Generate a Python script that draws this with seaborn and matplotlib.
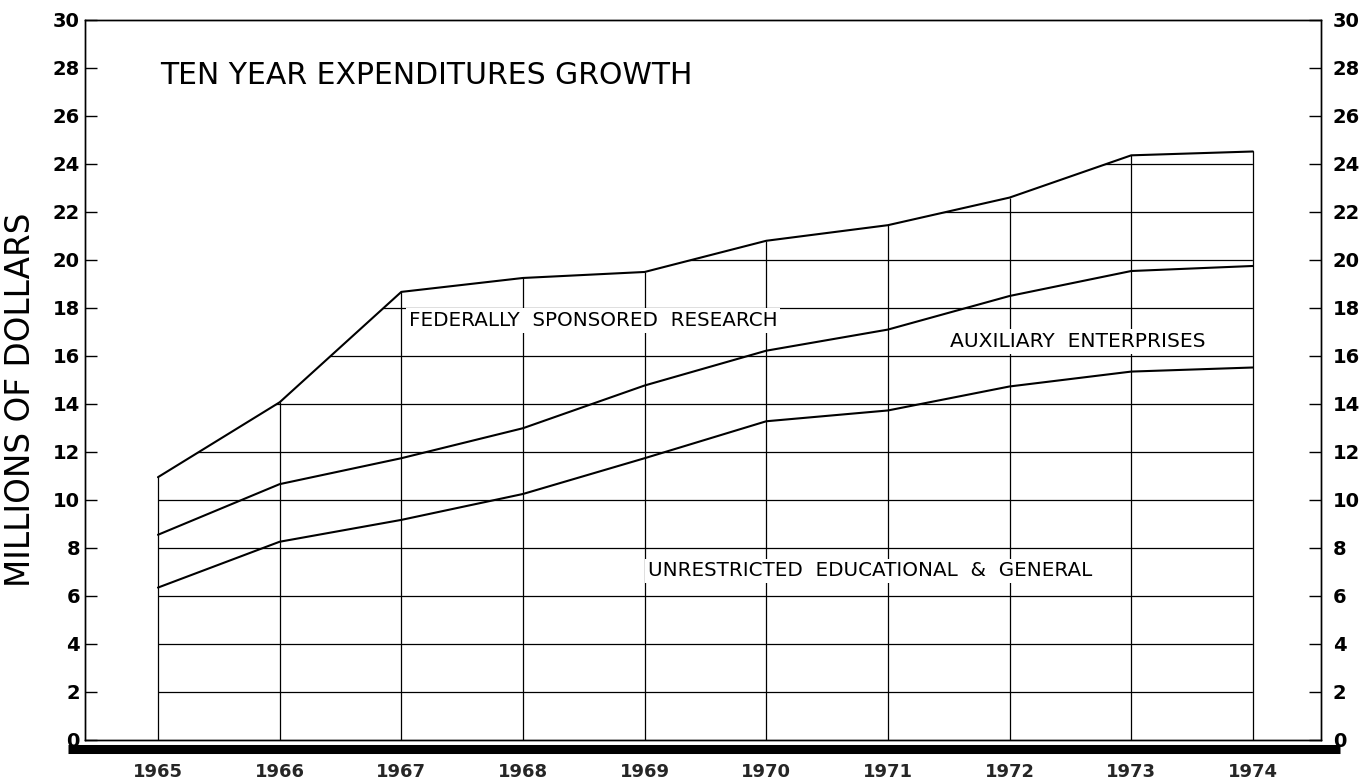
import seaborn as sns
import matplotlib.pyplot as plt
import pandas as pd
import numpy as np
from matplotlib.patches import Polygon

# values (cumulative stack tops, millions of dollars)
years = [1965, 1966, 1967, 1968, 1969, 1970, 1971, 1972, 1973, 1974]
unrestricted = [6.35, 8.26, 9.17, 10.25, 11.74, 13.28, 13.73, 14.73, 15.35, 15.52]
auxiliary = [8.55, 10.66, 11.74, 12.99, 14.77, 16.22, 17.10, 18.50, 19.54, 19.75]
federal = [10.95, 14.07, 18.67, 19.25, 19.50, 20.80, 21.45, 22.60, 24.36, 24.52]
y_ticks = list(range(0, 31, 2))

sns.set_theme(style="white")
plt.rcParams['font.family'] = ['DejaVu Sans']

fig = plt.figure(figsize=(13.64, 7.80), dpi=100)
ax = fig.add_axes([0.0623, 0.0513, 0.9062, 0.9231])

df = pd.DataFrame({
    "year": years * 3,
    "value": unrestricted + auxiliary + federal,
    "series": ["unrestricted"] * 10 + ["auxiliary"] * 10 + ["federal"] * 10,
})
sns.lineplot(data=df, x="year", y="value", units="series", estimator=None,
             color="black", linewidth=1.5, ax=ax, zorder=3, legend=False)

# grid only under the top curve
area = Polygon(list(zip(years, federal)) + [(years[-1], 0), (years[0], 0)],
               closed=True, fill=False, edgecolor="none")
ax.add_patch(area)
hl = ax.hlines(y_ticks[1:], years[0], years[-1], color="black", linewidth=0.9, zorder=1)
hl.set_clip_path(area)
ax.vlines(years, 0, federal, color="black", linewidth=0.9, zorder=1)

ax.set_xlim(1964.40, 1974.56)
ax.set_ylim(0, 30)
ax.set_xticks(years)
ax.set_xticklabels([str(y) for y in years], fontsize=13, fontweight="bold")
ax.set_yticks(y_ticks)
ax.set_yticklabels([str(v) for v in y_ticks], fontsize=14, fontweight="bold")
ax.tick_params(axis="x", length=0, pad=16.5)
ax.tick_params(axis="y", direction="in", length=8.6, width=1, pad=3.6, colors="black")
ax.set_xlabel("")
ax.set_ylabel("")

ax2 = ax.twinx()
ax2.set_ylim(0, 30)
ax2.set_yticks(y_ticks)
ax2.set_yticklabels([str(v) for v in y_ticks], fontsize=14, fontweight="bold")
ax2.tick_params(axis="y", direction="in", length=8.6, width=1, pad=8.6, colors="black")

for a in (ax, ax2):
    for s in a.spines.values():
        s.set_color("black")
        s.set_linewidth(1.0)

# heavy base bar
ax.plot([-0.014, 1.015], [-0.013, -0.013], transform=ax.transAxes, clip_on=False,
        color="black", linewidth=6.5, solid_capstyle="butt")

box = dict(facecolor="white", edgecolor="none", pad=2)
ax.text(1965.02, 27.7, "TEN YEAR EXPENDITURES GROWTH", fontsize=21.5,
        ha="left", va="center", color="black")
ax.text(1967.06, 17.47, "FEDERALLY  SPONSORED  RESEARCH", fontsize=14.3,
        ha="left", va="center", color="black", bbox=box, zorder=4)
ax.text(1971.51, 16.6, "AUXILIARY  ENTERPRISES", fontsize=14.6,
        ha="left", va="center", color="black", bbox=box, zorder=4)
ax.text(1969.03, 7.05, "UNRESTRICTED  EDUCATIONAL  &  GENERAL", fontsize=14.3,
        ha="left", va="center", color="black", bbox=box, zorder=4)

fig.text(21 / 1364, 1 - 400 / 780, "MILLIONS OF DOLLARS", rotation=90,
         fontsize=23.5, ha="center", va="center", color="black")

fig.savefig("out.png", dpi=100, facecolor="white")
